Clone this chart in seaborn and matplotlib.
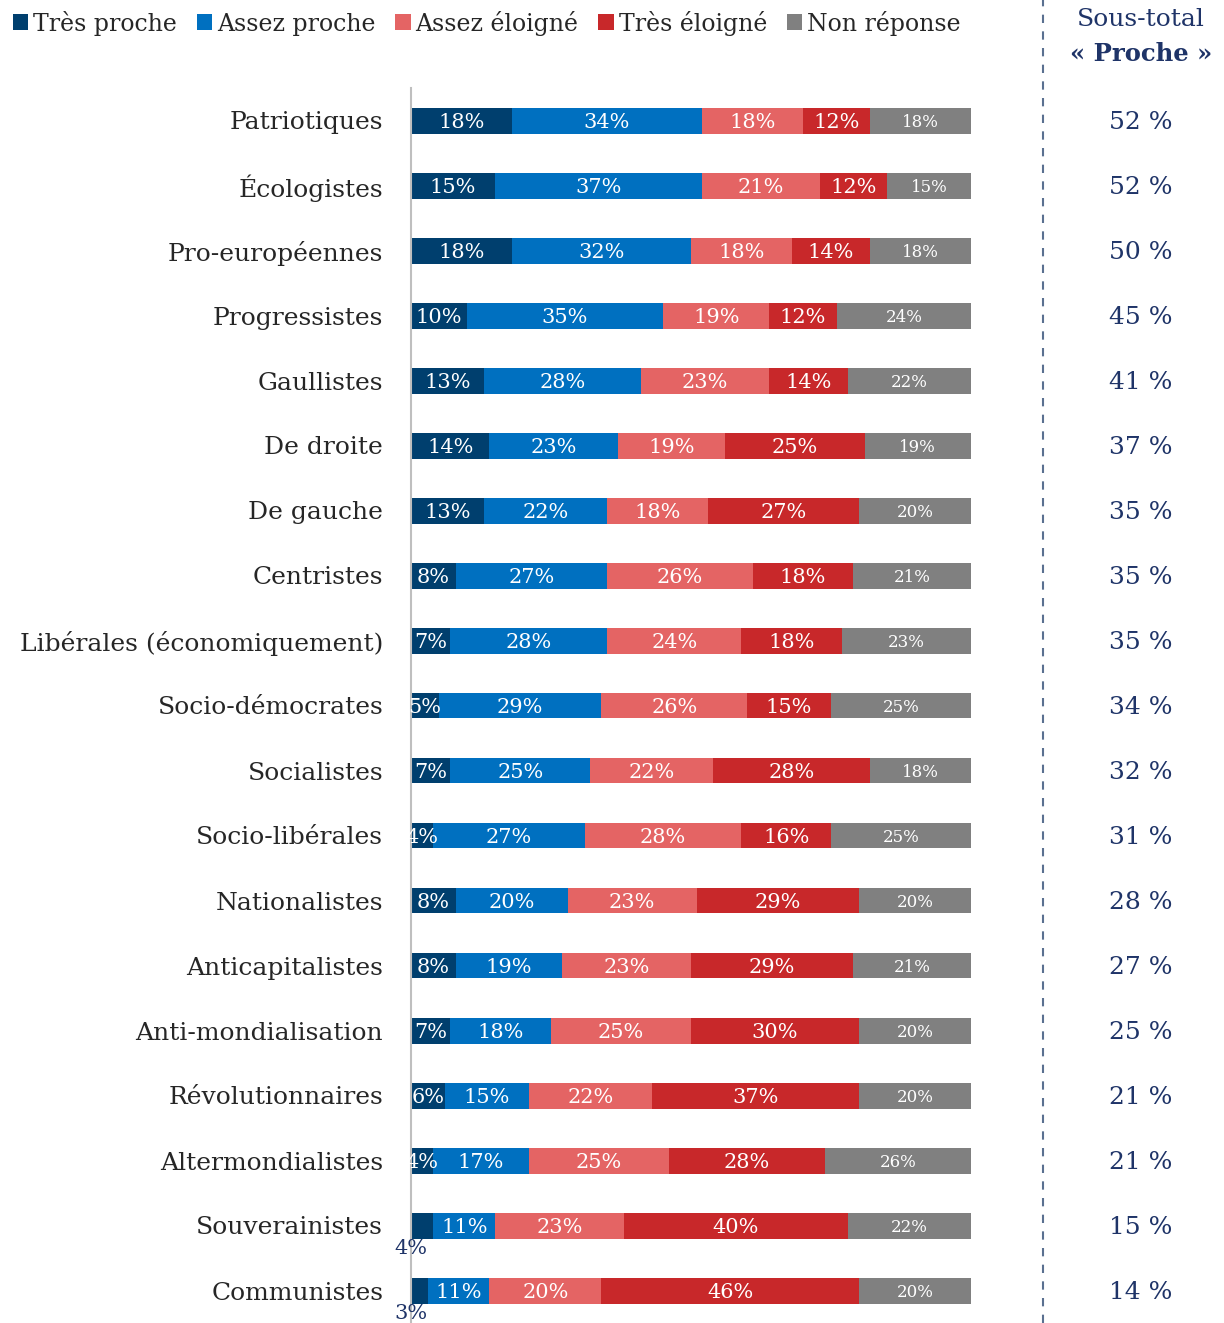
import numpy as np
import pandas as pd
import matplotlib
matplotlib.use("Agg")
import matplotlib.pyplot as plt
import matplotlib.transforms as mtrans
from matplotlib.patches import Patch
from matplotlib.lines import Line2D
import seaborn as sns

categories = ["Patriotiques", "Écologistes", "Pro-européennes", "Progressistes",
              "Gaullistes", "De droite", "De gauche", "Centristes",
              "Libérales (économiquement)", "Socio-démocrates", "Socialistes",
              "Socio-libérales", "Nationalistes", "Anticapitalistes",
              "Anti-mondialisation", "Révolutionnaires", "Altermondialistes",
              "Souverainistes", "Communistes"]
tres_proche = [18, 15, 18, 10, 13, 14, 13, 8, 7, 5, 7, 4, 8, 8, 7, 6, 4, 4, 3]
assez_proche = [34, 37, 32, 35, 28, 23, 22, 27, 28, 29, 25, 27, 20, 19, 18, 15, 17, 11, 11]
assez_eloigne = [18, 21, 18, 19, 23, 19, 18, 26, 24, 26, 22, 28, 23, 23, 25, 22, 25, 23, 20]
tres_eloigne = [12, 12, 14, 12, 14, 25, 27, 18, 18, 15, 28, 16, 29, 29, 30, 37, 28, 40, 46]
non_reponse = [18, 15, 18, 24, 22, 19, 20, 21, 23, 25, 18, 25, 20, 21, 20, 20, 26, 22, 20]
sous_total = [52, 52, 50, 45, 41, 37, 35, 35, 35, 34, 32, 31, 28, 27, 25, 21, 21, 15, 14]
series_names = ["Très proche", "Assez proche", "Assez éloigné", "Très éloigné", "Non réponse"]

colors = ["#003F6E", "#0070C0", "#E46464", "#C8282A", "#808080"]
navy = "#1F3468"
text_col = "#262626"

sns.set_theme(style="white")
plt.rcParams["font.family"] = ["DejaVu Serif"]

series = [tres_proche, assez_proche, assez_eloigne, tres_eloigne, non_reponse]
df = pd.DataFrame({"cat": categories})
for name, vals in zip(series_names, series):
    df[name] = vals
cum = np.cumsum(np.array(series, dtype=float), axis=0)

W, H = 1224, 1323
fig = plt.figure(figsize=(W / 100, H / 100), dpi=100)
ax = fig.add_axes([411 / W, 0, 560 / W, (H - 88) / H])

for k in range(len(series) - 1, -1, -1):
    sns.barplot(x=cum[k], y=categories, orient="h", color=colors[k],
                width=0.4, saturation=1, ax=ax, linewidth=0)

ax.set_xlim(0, 100)
ax.set_ylim(18.5, -0.5)
ax.set_xlabel("")
ax.set_ylabel("")
ax.set_xticks([])
ax.tick_params(axis="y", length=0, pad=20, labelsize=18, labelcolor=text_col)
for s in ["top", "right", "bottom"]:
    ax.spines[s].set_visible(False)
ax.spines["left"].set_color("#BFBFBF")
ax.spines["left"].set_linewidth(1.5)

# segment labels
for i in range(len(categories)):
    for k in range(len(series)):
        v = series[k][i]
        center = cum[k][i] - v / 2
        fs = 12 if k == 4 else 15
        if k == 0 and categories[i] in ("Souverainistes", "Communistes"):
            ax.text(0, i + 0.36, f"{v}%", ha="center", va="center",
                    color=navy, fontsize=15)
            continue
        ax.text(center, i + 0.03, f"{v}%", ha="center", va="center",
                color="white", fontsize=fs)

# right column
tr = mtrans.blended_transform_factory(fig.transFigure, ax.transData)
for i, v in enumerate(sous_total):
    ax.text(1141 / W, i + 0.03, f"{v} %", transform=tr, ha="center",
            va="center", color=navy, fontsize=18, clip_on=False)

fig.text(1141 / W, 1 - 20 / H, "Sous-total", ha="center", va="center",
         color=navy, fontsize=18)
fig.text(1141 / W, 1 - 54 / H, "« Proche »", ha="center", va="center",
         color=navy, fontsize=17.5, fontweight="bold")
fig.add_artist(Line2D([1043 / W, 1043 / W], [0, 1], transform=fig.transFigure,
                      color="#5A7090", linewidth=1.5, linestyle=(0, (4, 4))))

handles = [Patch(facecolor=c, edgecolor="none") for c in colors]
fig.legend(handles, series_names, loc="upper left", bbox_to_anchor=(-0.007, 1.008),
           ncol=5, frameon=False, fontsize=17, handlelength=0.65,
           handleheight=0.65, handletextpad=0.2, columnspacing=0.85,
           labelcolor=text_col)

fig.savefig("out.png", dpi=100)
